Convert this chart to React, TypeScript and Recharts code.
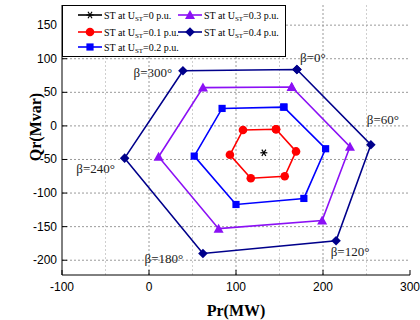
import {
  ScatterChart,
  Scatter,
  XAxis,
  YAxis,
  CartesianGrid,
  Legend,
  ReferenceDot,
  Label,
} from "recharts";

// beta angle at each vertex, in order
const BETA = ["β=0°", "β=60°", "β=120°", "β=180°", "β=240°", "β=300°"];

// Pr (MW) / Qr (Mvar) for each U_ST level
const P_00 = [132];
const Q_00 = [-40];
const P_01 = [146, 169, 156, 117, 93, 108];
const Q_01 = [-5, -38, -75, -78, -43, -6];
const P_02 = [155, 203, 178, 100, 52, 84];
const Q_02 = [28, -34, -108, -117, -45, 26];
const P_03 = [164, 231, 199, 80, 11, 62];
const Q_03 = [58, -31, -141, -153, -46, 57];
const P_04 = [170, 255, 215, 62, -28, 39];
const Q_04 = [84, -28, -171, -190, -48, 82];

const X_TICKS = [-100, 0, 100, 200, 300];
const X_GRID_MAJOR = [0, 100, 200];
const X_GRID_MINOR = [-50, 50, 150, 250];
const Y_TICKS = [-200, -150, -100, -50, 0, 50, 100, 150];

const COLORS = {
  u0: "#000000",
  u1: "#ff0000",
  u2: "#0000ff",
  u3: "#8b10f5",
  u4: "#00008b",
};

// label offsets from the outer (0.4 p.u.) vertices, px
const BETA_OFFSETS = [
  [16, -12],
  [12, -25],
  [14, 11],
  [-39, 5],
  [-29, 10],
  [-30, 2],
];

const closed = (p: number[], q: number[]) => {
  const pts = p.map((x, i) => ({ x, y: q[i] }));
  return pts.length > 1 ? [...pts, pts[0]] : pts;
};

const SERIF = "'Liberation Serif', 'Times New Roman', serif";
const SANS = "'Liberation Sans', Arial, sans-serif";

const marker = (kind: string, color: string, cx: number, cy: number) => {
  switch (kind) {
    case "circle":
      return <circle cx={cx} cy={cy} r={4.3} fill={color} />;
    case "square":
      return <rect x={cx - 3.6} y={cy - 3.6} width={7.2} height={7.2} fill={color} />;
    case "triangle":
      return <polygon points={`${cx},${cy - 5} ${cx - 5},${cy + 4} ${cx + 5},${cy + 4}`} fill={color} />;
    case "diamond":
      return <polygon points={`${cx},${cy - 4.8} ${cx + 4.8},${cy} ${cx},${cy + 4.8} ${cx - 4.8},${cy}`} fill={color} />;
    default:
      // asterisk
      return (
        <g stroke={color} strokeWidth={1.2}>
          <line x1={cx - 3.5} y1={cy} x2={cx + 3.5} y2={cy} />
          <line x1={cx - 2} y1={cy - 3.2} x2={cx + 2} y2={cy + 3.2} />
          <line x1={cx - 2} y1={cy + 3.2} x2={cx + 2} y2={cy - 3.2} />
        </g>
      );
  }
};

const SERIES = [
  { key: "u0", level: "0", p: P_00, q: Q_00, color: COLORS.u0, kind: "star" },
  { key: "u1", level: "0.1", p: P_01, q: Q_01, color: COLORS.u1, kind: "circle" },
  { key: "u2", level: "0.2", p: P_02, q: Q_02, color: COLORS.u2, kind: "square" },
  { key: "u3", level: "0.3", p: P_03, q: Q_03, color: COLORS.u3, kind: "triangle" },
  { key: "u4", level: "0.4", p: P_04, q: Q_04, color: COLORS.u4, kind: "diamond" },
];

const BottomTick = (props: any) => {
  const { x, y, payload } = props;
  return (
    <g>
      <line x1={x} y1={y} x2={x} y2={y - 5} stroke="#000" />
      <text x={x} y={y + 15.5} textAnchor="middle" fontSize={12} fontFamily={SANS} fill="#000">
        {payload.value}
      </text>
    </g>
  );
};

const TopTick = (props: any) => {
  const { x, y } = props;
  return <line x1={x} y1={y} x2={x} y2={y + 5} stroke="#000" />;
};

const LeftTick = (props: any) => {
  const { x, y, payload } = props;
  return (
    <g>
      <line x1={x} y1={y} x2={x + 5} y2={y} stroke="#000" />
      <text x={x - 5} y={y + 4} textAnchor="end" fontSize={12} fontFamily={SANS} fill="#000">
        {payload.value}
      </text>
    </g>
  );
};

const RightTick = (props: any) => {
  const { x, y } = props;
  return <line x1={x} y1={y} x2={x - 5} y2={y} stroke="#000" />;
};

const LegendBox = () => {
  // column-major: 3 rows in first column, 2 in second
  const rows = [10, 27, 42];
  const cols = [16, 116];
  return (
    <svg width={224} height={52} style={{ display: "block" }}>
      <rect x={0.5} y={0.5} width={223} height={51} fill="#fff" stroke="#000" />
      {SERIES.map((s, i) => {
        const cx = cols[Math.floor(i / 3)];
        const cy = rows[i % 3];
        return (
          <g key={s.key}>
            <line x1={cx} y1={cy} x2={cx + 24} y2={cy} stroke={s.color} strokeWidth={1.6} />
            {marker(s.kind, s.color, cx + 12, cy)}
            <text x={cx + 26} y={cy + 3.5} fontSize={10} fontFamily={SERIF} fill="#000">
              ST at U
              <tspan fontSize={7} dy={2.5}>ST</tspan>
              <tspan dy={-2.5}>={s.level} p.u.</tspan>
            </text>
          </g>
        );
      })}
    </svg>
  );
};

export default function App() {
  return (
    <div style={{ position: "absolute", left: 0, top: 0, width: 420, height: 320, background: "#fff" }}>
      <ScatterChart width={420} height={320} margin={{ top: 5, right: 10, bottom: 0, left: 12 }}>
        <XAxis
          xAxisId="b"
          type="number"
          dataKey="x"
          domain={[-100, 300]}
          ticks={X_TICKS}
          interval={0}
          height={45}
          tickSize={0}
          tickMargin={0}
          tickLine={false}
          axisLine={{ stroke: "#000" }}
          tick={BottomTick}
        >
          <Label
            content={() => (
              <text x={236} y={316} textAnchor="middle" fontSize={16} fontWeight="bold" fontFamily={SERIF}>
                Pr(MW)
              </text>
            )}
          />
        </XAxis>
        <XAxis
          xAxisId="t"
          orientation="top"
          type="number"
          dataKey="x"
          domain={[-100, 300]}
          ticks={X_TICKS}
          interval={0}
          height={0}
          tickSize={0}
          tickMargin={0}
          tickLine={false}
          axisLine={{ stroke: "#000" }}
          tick={TopTick}
        />
        <YAxis
          yAxisId="l"
          type="number"
          dataKey="y"
          domain={[-222, 180]}
          ticks={Y_TICKS}
          interval={0}
          width={50}
          tickSize={0}
          tickMargin={0}
          tickLine={false}
          axisLine={{ stroke: "#000" }}
          tick={LeftTick}
        >
          <Label
            content={() => (
              <text
                x={41}
                y={127}
                textAnchor="middle"
                fontSize={16}
                fontWeight="bold"
                fontFamily={SERIF}
                transform="rotate(-90, 41, 127)"
              >
                Qr(Mvar)
              </text>
            )}
          />
        </YAxis>
        <YAxis
          yAxisId="r"
          orientation="right"
          type="number"
          dataKey="y"
          domain={[-222, 180]}
          ticks={Y_TICKS}
          interval={0}
          width={0}
          tickSize={0}
          tickMargin={0}
          tickLine={false}
          axisLine={{ stroke: "#000" }}
          tick={RightTick}
        />
        <CartesianGrid
          xAxisId="b"
          yAxisId="l"
          horizontal={false}
          verticalValues={X_GRID_MINOR}
          stroke="#cfcfcf"
          strokeDasharray="2 2"
        />
        <CartesianGrid
          xAxisId="b"
          yAxisId="l"
          verticalValues={X_GRID_MAJOR}
          horizontalValues={Y_TICKS}
          stroke="#9a9a9a"
          strokeDasharray="2 2"
        />
        {SERIES.map((s) => (
          <Scatter
            key={s.key}
            xAxisId="b"
            yAxisId="l"
            name={s.key}
            data={closed(s.p, s.q)}
            line={s.p.length > 1 ? { stroke: s.color, strokeWidth: 1.6 } : false}
            lineType="joint"
            fill={s.color}
            shape={(props: any) => marker(s.kind, s.color, props.cx, props.cy)}
            isAnimationActive={false}
          />
        ))}
        {BETA.map((b, i) => (
          <ReferenceDot
            key={b}
            xAxisId="b"
            yAxisId="l"
            x={P_04[i]}
            y={Q_04[i]}
            r={0}
            shape={(props: any) => (
              <text
                x={props.cx + BETA_OFFSETS[i][0]}
                y={props.cy + BETA_OFFSETS[i][1] + 4.5}
                textAnchor="middle"
                fontSize={13}
                fontFamily={SERIF}
                fill="#222"
              >
                {b}
              </text>
            )}
          />
        ))}
        <Legend
          layout="horizontal"
          verticalAlign="middle"
          align="center"
          content={LegendBox}
          wrapperStyle={{ top: 5, left: 62, width: 224, height: 52 }}
        />
      </ScatterChart>
    </div>
  );
}
